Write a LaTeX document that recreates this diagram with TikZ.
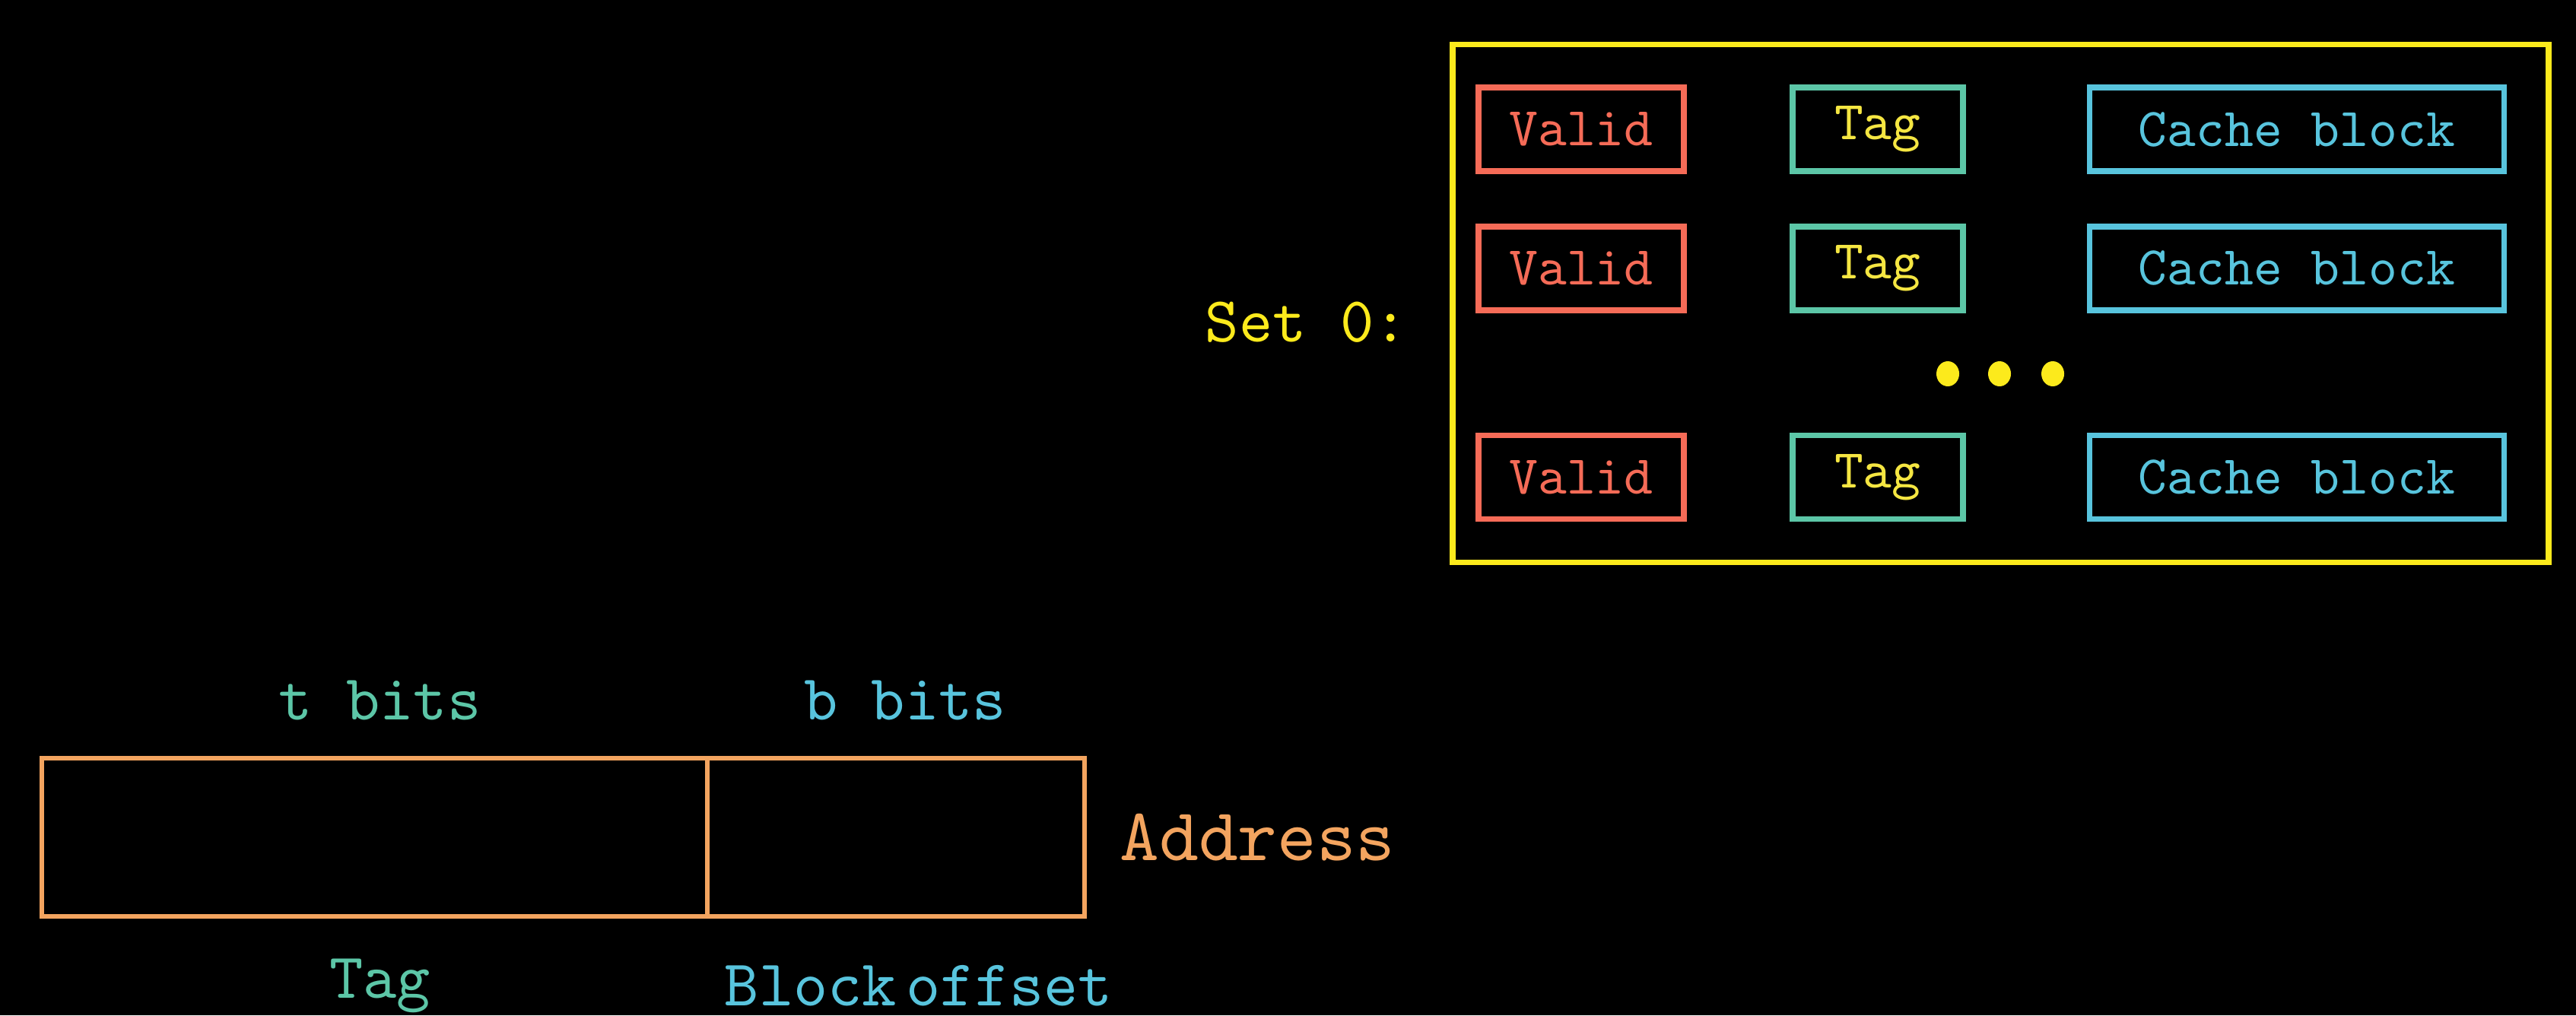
\documentclass[tikz,border=0pt]{standalone}
\usepackage{fontspec}
\setmonofont{lmmono10-regular.otf}
\usepackage{tikz}
\usetikzlibrary{positioning, shapes.geometric}

\definecolor{validred}{HTML}{F56B57}
\definecolor{tagteal}{HTML}{5CC6A7}
\definecolor{tagyellow}{HTML}{F5E642}
\definecolor{blockblue}{HTML}{58C4DD}
\definecolor{setyellow}{HTML}{FCEA1C}
\definecolor{addrorange}{HTML}{F3A45F}

\begin{document}
\begin{tikzpicture}[line width=2.2pt,
    every node/.style={inner sep=0pt, font=\ttfamily\fontsize{24}{28}\selectfont},
    cellbox/.style={minimum height=1.1cm, font=\ttfamily\fontsize{20.5}{24}\selectfont},
    validbox/.style={cellbox, draw=validred, text=validred, minimum width=2.7cm},
    tagbox/.style={cellbox, draw=tagteal, text=tagyellow, minimum width=2.24cm},
    blockbox/.style={cellbox, draw=blockblue, text=blockblue, minimum width=5.45cm},
    dot/.style={ellipse, fill=setyellow, minimum width=0.3cm, minimum height=0.33cm},
    fieldbox/.style={draw=addrorange, line width=1.8pt, minimum height=2.08cm, outer sep=0pt}]

    \fill[black] (0,0) rectangle (33.87,13.35);
    \useasboundingbox (0,0) rectangle (33.87,13.35);

    % Set 0 and its lines
    \node[draw=setyellow, minimum width=14.41cm, minimum height=6.81cm] (set0) at (26.305,9.36) {};
    \node[text=setyellow, anchor=base west] (setlabel) at (15.81,8.86) {Set 0:};

    % First line
    \node[validbox] (valid1) at (20.79,11.65) {Valid};
    \node[tagbox, right=1.35cm of valid1] (tag1) {Tag};
    \node[blockbox, right=1.59cm of tag1] (block1) {Cache block};
    % Second line
    \node[validbox, below=0.65cm of valid1] (valid2) {Valid};
    \node[tagbox, right=1.35cm of valid2] (tag2) {Tag};
    \node[blockbox, right=1.59cm of tag2] (block2) {Cache block};
    % Last line
    \node[validbox, below=1.57cm of valid2] (valid3) {Valid};
    \node[tagbox, right=1.35cm of valid3] (tag3) {Tag};
    \node[blockbox, right=1.59cm of tag3] (block3) {Cache block};

    % Dots between the lines
    \node[dot] (dot1) at (25.61,8.435) {};
    \node[dot] (dot2) at (26.29,8.435) {};
    \node[dot] (dot3) at (26.99,8.435) {};

    % Address fields
    \node[fieldbox, minimum width=8.75cm] (tagfield) at (4.925,2.34) {};
    \node[fieldbox, minimum width=4.96cm, right=0pt of tagfield] (offsetfield) {};
    \node[text=tagteal, above=0.46cm of tagfield, xshift=0.07cm] (tbits) {t bits};
    \node[text=blockblue, above=0.46cm of offsetfield, xshift=0.12cm] (bbits) {b bits};
    \node[text=tagteal, below=0.52cm of tagfield, xshift=0.07cm] (taglabel) {Tag};
    \node[text=blockblue, below=0.6cm of offsetfield, xshift=0.3cm, font=\ttfamily\fontsize{24.5}{28}\selectfont] (offsetlabel) {{\spaceskip=0.15em Block offset}};
    \node[text=addrorange, right=0.43cm of offsetfield, font=\ttfamily\fontsize{28}{32}\selectfont] (addrlabel) {Address};
\end{tikzpicture}
\end{document}
